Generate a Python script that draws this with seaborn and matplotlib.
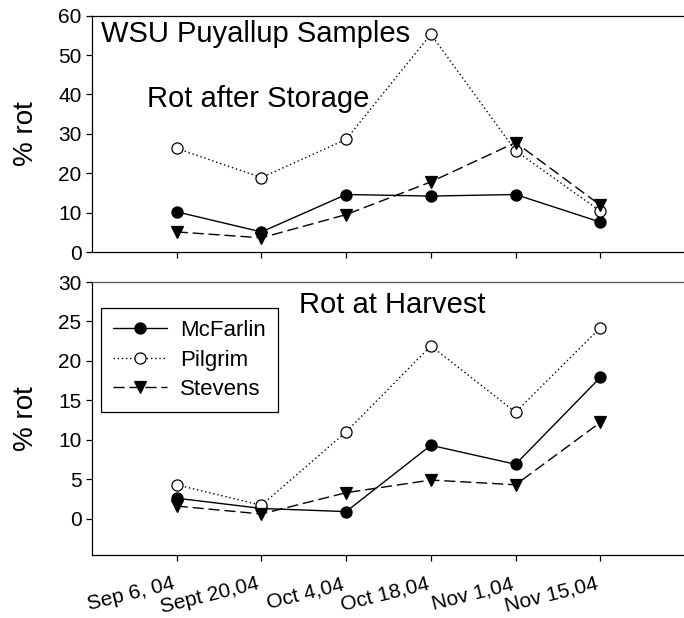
import numpy as np
import pandas as pd
import matplotlib
matplotlib.use("Agg")
import matplotlib.pyplot as plt
import seaborn as sns

# Sampling dates (x categories)
dates = ["Sep 6, 04", "Sept 20,04", "Oct 4,04", "Oct 18,04", "Nov 1,04", "Nov 15,04"]
varieties = ["McFarlin", "Pilgrim", "Stevens"]

# % rot after storage
storage_mcfarlin = [10.2, 5.1, 14.6, 14.2, 14.6, 7.6]
storage_pilgrim = [26.3, 18.9, 28.6, 55.3, 25.7, 10.4]
storage_stevens = [5.1, 3.6, 9.5, 17.8, 27.8, 11.9]

# % rot at harvest
harvest_mcfarlin = [2.6, 1.3, 0.9, 9.3, 6.9, 17.9]
harvest_pilgrim = [4.3, 1.7, 11.0, 21.9, 13.5, 24.2]
harvest_stevens = [1.6, 0.6, 3.3, 4.9, 4.3, 12.2]

storage_ticks = [0, 10, 20, 30, 40, 50, 60]
harvest_ticks = [0, 5, 10, 15, 20, 25, 30]

sns.set_style("ticks")
plt.rcParams["font.family"] = ["Liberation Sans", "DejaVu Sans"]
plt.rcParams["axes.linewidth"] = 0.9
plt.rcParams["text.color"] = "black"
plt.rcParams["axes.labelcolor"] = "black"
plt.rcParams["axes.edgecolor"] = "black"
plt.rcParams["xtick.color"] = "black"
plt.rcParams["ytick.color"] = "black"

pos = np.arange(1, len(dates) + 1)


def long_table(mc, pi, st):
    frames = []
    for name, vals in zip(varieties, [mc, pi, st]):
        frames.append(pd.DataFrame({"pos": pos, "rot": vals, "variety": name}))
    return pd.concat(frames, ignore_index=True)


styles = {
    "McFarlin": dict(linestyle="-", marker="o", markerfacecolor="black", markersize=8),
    "Pilgrim": dict(linestyle=(0, (1, 2)), marker="o", markerfacecolor="white", markersize=8),
    "Stevens": dict(linestyle=(0, (8, 3.5)), marker="v", markerfacecolor="black", markersize=8.5),
}

fig = plt.figure(figsize=(6.84, 6.18), dpi=100)
ax_top = fig.add_axes([92 / 684, 1 - 252 / 618, 593 / 684, (252 - 15.7) / 618])
ax_bot = fig.add_axes([92 / 684, 1 - 555 / 618, 593 / 684, (555 - 282) / 618])


def draw_panel(ax, table):
    for name in varieties:
        sub = table[table["variety"] == name]
        sns.lineplot(data=sub, x="pos", y="rot", ax=ax, color="black", linewidth=1.0,
                     markeredgecolor="black", markeredgewidth=0.9, label=name,
                     legend=False, **styles[name])


draw_panel(ax_top, long_table(storage_mcfarlin, storage_pilgrim, storage_stevens))
draw_panel(ax_bot, long_table(harvest_mcfarlin, harvest_pilgrim, harvest_stevens))

for ax in (ax_top, ax_bot):
    ax.set_xlim(0, 7)
    ax.set_xticks(pos)
    ax.spines["right"].set_visible(False)
    ax.tick_params(direction="out", length=4, width=0.9, labelsize=15, colors="black")
    ax.set_xlabel("")
    ax.set_ylabel("% rot", fontsize=20)
    ax.yaxis.set_label_coords(-0.09, 0.5)

ax_top.set_ylim(0, 60)
ax_top.set_yticks(storage_ticks)
ax_top.set_xticklabels([])

ax_bot.set_ylim(-4.6, 30)
ax_bot.set_yticks(harvest_ticks)
ax_bot.spines["top"].set_color("#555555")
ax_bot.set_xticklabels(dates, rotation=14, ha="right", va="top", fontsize=15)
ax_bot.tick_params(axis="x", pad=10)

ax_top.text(1.93, 53.3, "WSU Puyallup Samples", fontsize=21, ha="center", va="baseline")
ax_top.text(1.96, 36.8, "Rot after Storage", fontsize=21, ha="center", va="baseline")
ax_bot.text(3.54, 26.1, "Rot at Harvest", fontsize=21, ha="center", va="baseline")

leg = ax_bot.legend(loc="upper left", bbox_to_anchor=(0.0152, 0.905), borderaxespad=0,
                    fancybox=False, edgecolor="black", framealpha=1, fontsize=16,
                    handlelength=2.4, handletextpad=0.6, borderpad=0.55, labelspacing=0.38)
leg.get_frame().set_linewidth(0.9)

fig.savefig("out.png", dpi=100, facecolor="white")
